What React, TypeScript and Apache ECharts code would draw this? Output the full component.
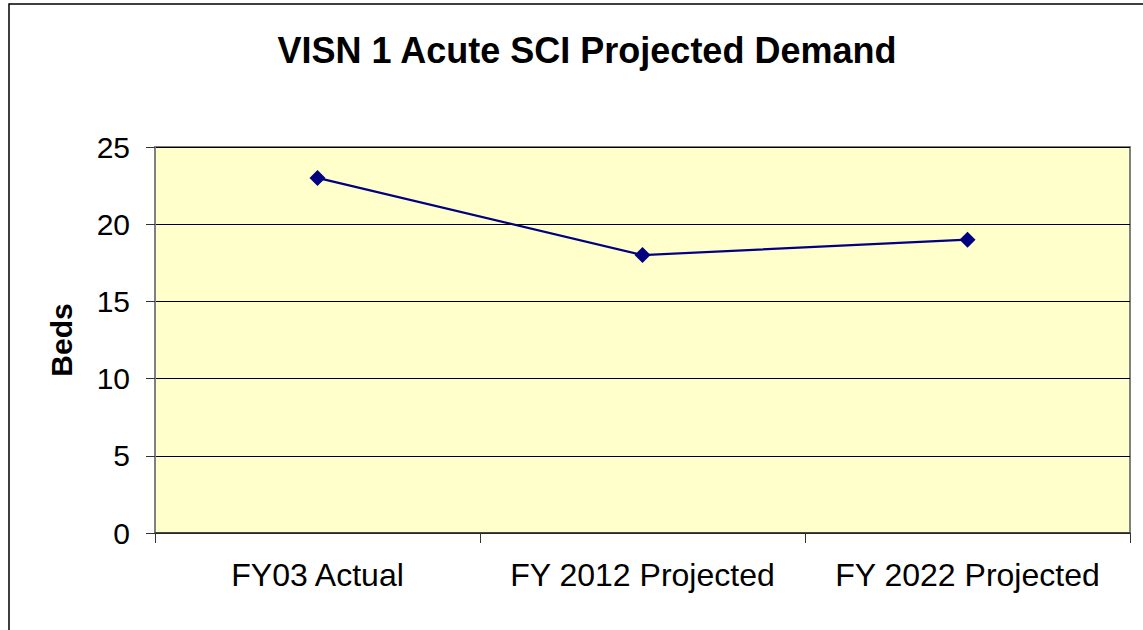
import React, { useEffect, useRef } from "react";
import * as echarts from "echarts";

const categories = ["FY03 Actual", "FY 2012 Projected", "FY 2022 Projected"];
const bedsValues = [23, 18, 19];
const titleText = "VISN 1 Acute SCI Projected Demand";
const yAxisTitle = "Beds";

export default function App() {
  const ref = useRef<HTMLDivElement>(null);
  useEffect(() => {
    if (!ref.current) return;
    const chart = echarts.init(ref.current, null, { renderer: "svg" });
    chart.setOption({
      animation: false,
      backgroundColor: "#ffffff",
      title: {
        text: titleText,
        left: 582,
        top: 27,
        textAlign: "center",
        textStyle: {
          fontFamily: "Liberation Sans, Arial, sans-serif",
          fontSize: 36,
          fontWeight: "bold",
          color: "#000",
        },
      },
      graphic: [
        {
          type: "rect",
          shape: { x: 9, y: 4, width: 1300, height: 800 },
          style: { fill: "none", stroke: "#000", lineWidth: 1.5 },
          silent: true,
          z: 0,
        },
        {
          type: "text",
          x: 61,
          y: 340,
          rotation: Math.PI / 2,
          style: {
            text: yAxisTitle,
            fontFamily: "Liberation Sans, Arial, sans-serif",
            fontSize: 30,
            fontWeight: "bold",
            fill: "#000",
            align: "center",
            verticalAlign: "middle",
          },
        },
      ],
      grid: {
        left: 155,
        top: 147,
        width: 975,
        height: 386,
        show: true,
        backgroundColor: "#FFFFCC",
        borderColor: "#808080",
        borderWidth: 2,
      },
      xAxis: {
        type: "category",
        data: categories,
        boundaryGap: true,
        axisLine: { show: true, lineStyle: { color: "#333", width: 1.5 } },
        axisTick: { show: true, interval: 0, length: 10, lineStyle: { color: "#333", width: 1 } },
        axisLabel: {
          interval: 0,
          hideOverlap: false,
          fontFamily: "Liberation Sans, Arial, sans-serif",
          fontSize: 32,
          color: "#000",
          margin: 26,
        },
        splitLine: { show: false },
      },
      yAxis: {
        type: "value",
        min: 0,
        max: 25,
        interval: 5,
        axisLine: { show: true, lineStyle: { color: "#808080", width: 2 } },
        axisTick: { show: true, length: 9, lineStyle: { color: "#333", width: 1 } },
        axisLabel: {
          fontFamily: "Liberation Sans, Arial, sans-serif",
          fontSize: 30,
          color: "#000",
          margin: 25,
        },
        splitLine: { show: true, lineStyle: { color: "#000", width: 1 } },
      },
      series: [
        {
          type: "line",
          data: bedsValues,
          symbol: "diamond",
          symbolSize: 16,
          lineStyle: { color: "#000080", width: 2.2 },
          itemStyle: { color: "#000080" },
        },
      ],
    });
    return () => chart.dispose();
  }, []);
  return (
    <div
      ref={ref}
      style={{ position: "fixed", left: 0, top: 0, width: 1143, height: 630 }}
    />
  );
}
